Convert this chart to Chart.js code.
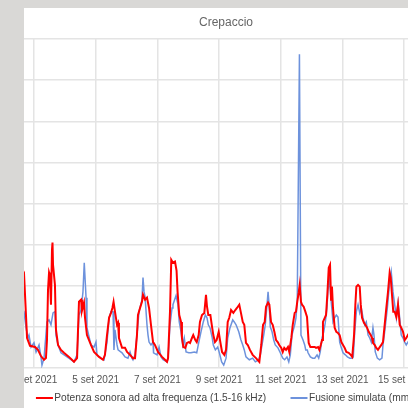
<!DOCTYPE html>
<html><head><meta charset="utf-8">
<script src="https://cdn.jsdelivr.net/npm/chart.js@4"></script>
<style>
html,body{margin:0;padding:0;background:#d9d8d6;width:408px;height:408px;overflow:hidden}
#panel{position:absolute;left:24px;top:8px;width:384px;height:400px;overflow:hidden;background:#fff}
#wrap{position:absolute;left:-24px;top:-8px;width:452px;height:413px}
</style></head><body>
<div id="panel"><div id="wrap"><canvas id="c" width="452" height="413"></canvas></div></div>
<script>
// x values: hours since 3 set 2021 00:00
const tickHours = [0, 48, 96, 144, 192, 240, 288];
const tickLabels = ['3 set 2021', '5 set 2021', '7 set 2021', '9 set 2021', '11 set 2021', '13 set 2021', '15 set 2021'];
const seriesNames = ['Potenza sonora ad alta frequenza (1.5-16 kHz)', 'Fusione simulata (mm w.e.)'];

const redHours = [-12.4,-7.8,-5.4,-3.1,0.8,3.1,5.4,7.8,9.3,10.1,10.9,11.7,12.4,13.2,14.0,14.4,14.8,16.3,17.1,18.7,21.0,23.3,27.2,31.1,33.5,35.0,36.6,37.3,38.9,39.7,41.2,44.3,46.7,50.6,53.7,55.2,56.8,58.4,59.9,61.0,61.9,63.0,64.6,65.4,66.1,68.5,70.8,72.4,74.7,77.0,78.6,80.1,80.9,82.5,84.0,84.8,86.4,87.9,89.5,91.0,92.6,94.1,96.5,99.6,101.9,103.5,104.3,105.8,106.8,108.1,109.7,110.9,111.7,113.0,114.4,115.1,116.2,117.7,119.0,120.4,121.4,122.9,123.9,125.5,126.6,128.1,129.1,130.7,132.5,133.8,134.6,135.6,137.2,138.3,139.5,140.8,142.1,143.7,144.7,146.3,148.1,149.4,150.7,151.9,153.3,155.1,156.6,157.9,159.7,161.0,162.4,163.6,164.9,166.3,168.0,170.1,172.7,175.3,176.8,178.2,179.5,180.5,182.1,183.1,184.4,185.7,187.0,188.3,189.6,190.8,192.4,193.5,194.7,196.1,197.6,198.6,200.2,201.3,202.8,203.8,204.8,205.9,206.7,207.7,208.5,209.8,211.1,212.4,213.7,215.0,216.8,218.4,219.4,221.0,222.0,223.1,224.1,224.8,226.2,227.2,228.2,229.3,230.3,231.1,231.8,232.6,233.9,235.2,236.5,237.8,239.1,240.4,241.7,243.0,244.8,246.4,247.6,249.0,250.0,250.8,252.1,253.4,254.2,255.2,256.7,257.7,259.1,260.4,262.0,263.0,263.7,265.1,266.3,267.6,269.0,270.2,271.5,272.8,274.1,275.4,276.7,277.5,278.5,279.5,280.6,281.9,283.2,284.5,285.7,287.1,288.4,289.6,290.9,294.1];
const redValues = [2.59,2.32,0.73,0.54,0.51,0.44,0.29,0.2,0.24,0.68,1.9,2.32,2.24,1.54,2.88,3.05,2.51,2.02,0.93,0.56,0.44,0.37,0.27,0.15,0.24,1.61,1.66,1.39,1.59,1.22,0.80,0.56,0.39,0.27,0.2,0.32,0.80,1.22,1.34,1.46,1.61,1.37,1.05,1.10,0.73,0.49,0.49,0.39,0.32,0.24,0.24,0.80,1.29,1.46,1.61,1.78,1.66,1.71,1.46,1.05,0.63,0.56,0.39,0.27,0.2,0.15,0.24,1.37,2.63,2.56,2.59,2.37,1.85,1.29,1.12,0.73,0.51,0.49,0.61,0.63,0.61,0.73,0.80,0.68,0.63,0.80,1.12,1.29,1.34,1.78,1.49,1.29,1.29,1.05,0.80,0.63,0.68,0.88,0.68,0.39,0.32,0.44,1.12,1.22,1.41,1.34,1.41,1.46,1.54,1.34,1.12,1.05,0.61,0.56,0.44,0.32,0.24,0.15,0.56,1.05,1.12,1.49,1.59,1.54,1.12,1.05,0.88,0.68,0.63,0.56,0.49,0.39,0.49,0.44,0.51,0.39,0.73,1.05,1.34,1.37,1.61,1.83,2.02,1.61,1.54,1.49,1.37,1.24,0.61,0.51,0.51,0.51,0.49,0.51,0.44,0.56,0.68,1.12,1.22,1.29,1.78,2.44,2.51,1.66,1.98,1.46,0.98,0.88,0.85,0.80,0.63,0.56,0.49,0.39,0.37,0.32,0.27,0.80,1.54,1.98,2.02,1.98,1.54,1.22,1.10,1.05,0.98,0.88,0.80,0.73,0.61,0.56,0.49,0.44,0.51,0.56,0.63,1.05,1.46,1.85,2.32,2.20,1.78,1.37,1.37,1.24,1.54,1.05,0.98,0.88,0.68,0.73,0.80,0.68];

const blueHours = [-12.4,-7.8,-6.2,-4.7,-3.9,-2.3,0,1.6,3.9,5.4,6.2,7.8,10.1,11.7,13.2,14.8,16.3,17.1,18.7,21.0,25.7,31.1,33.5,35.0,36.6,38.1,39.1,40.5,41.2,44.3,46.7,48.2,49.0,52.1,54.5,56.8,58.4,59.9,61.5,62.2,63.0,64.6,65.4,68.5,70.8,73.1,74.7,76.2,77.0,78.6,80.1,81.7,84.0,84.8,85.6,86.4,87.9,88.7,89.5,91.0,92.6,93.0,95.7,97.3,98.8,100.4,103.5,104.3,105.8,107.4,108.1,110.5,112.0,113.0,114.4,115.7,116.9,118.3,120.4,122.1,124.7,126.6,128.1,129.9,131.7,133.3,134.6,135.6,136.9,138.5,139.5,141.1,142.9,144.2,146.0,147.6,149.4,150.7,152.5,154.6,155.8,157.2,159.3,161.0,162.4,163.6,164.9,167.5,170.1,172.2,174.8,176.1,177.4,178.7,179.9,181.3,182.1,183.1,183.8,185.2,186.5,187.7,189.8,191.6,193.5,195.0,196.8,198.2,199.4,200.7,202.8,203.8,204.8,206.5,207.7,209.3,210.6,211.4,212.6,213.2,215.0,216.8,218.4,220.2,221.5,222.7,224.1,225.4,226.6,227.9,228.7,229.9,231.1,232.6,233.9,235.2,236.5,237.8,239.1,240.4,242.2,243.8,245.7,247.4,248.4,249.5,250.8,252.1,253.4,254.6,256.0,257.3,258.5,259.9,261.2,262.4,263.7,264.5,265.5,267.1,268.9,270.7,271.5,272.8,274.9,276.7,277.9,279.3,280.6,281.9,283.2,284.5,285.7,287.1,288.4,289.6,290.9,294.1];
const blueValues = [1.66,1.37,0.98,0.73,0.80,0.51,0.61,0.39,0.56,0.27,0.07,0.24,1.12,1.17,1.05,1.34,1.37,0.80,0.56,0.37,0.27,0.15,0.32,1.29,1.41,1.85,2.56,1.71,0.98,0.56,0.51,0.63,0.32,0.24,0.2,0.63,1.22,1.37,1.37,0.44,0.93,0.56,0.44,0.37,0.27,0.24,0.39,0.24,0.2,0.32,0.80,1.37,1.66,2.20,1.85,1.73,1.05,0.80,0.63,0.56,0.63,0.37,0.32,0.51,0.27,0.2,0.15,0.24,1.05,1.46,1.54,1.76,1.54,1.12,0.88,0.56,0.73,0.39,0.37,0.37,0.39,0.37,0.61,0.88,1.12,1.29,1.22,1.05,0.98,0.76,0.56,0.44,0.51,0.37,0.15,0.07,0.24,0.73,0.98,1.17,1.12,1.05,0.88,0.68,0.56,0.44,0.27,0.2,0.24,0.15,0.2,0.32,0.56,0.80,1.05,1.54,1.85,1.46,1.0,0.88,0.68,0.56,0.49,0.37,0.24,0.2,0.27,0.15,0.32,0.80,1.05,1.22,1.61,7.63,0.80,0.68,0.56,0.44,0.44,0.37,0.27,0.24,0.24,0.32,0.24,0.39,0.73,0.88,1.10,1.46,1.90,2.15,1.66,1.12,1.22,1.29,1.24,0.63,0.49,0.37,0.32,0.27,0.24,0.24,0.27,0.88,1.37,1.54,1.34,1.46,1.22,1.05,1.12,0.80,0.73,0.63,0.98,0.80,0.39,0.24,0.2,0.24,0.56,0.88,1.46,2.10,2.34,1.85,1.54,1.22,1.59,1.22,0.80,0.73,0.63,0.56,0.63,0.56];

const redColor = '#ff0000';
const blueColor = '#6d92dc';

// legend marker: 40px wide image, line drawn in its right part so it sits just before the text
function legendLine(color) {
  const cv = document.createElement('canvas');
  cv.width = 40; cv.height = 2;
  const g = cv.getContext('2d');
  g.fillStyle = color; g.fillRect(22, 0, 17, 2);
  return cv;
}
const legendImgs = [legendLine(redColor), legendLine(blueColor)];

const zip = (xs, ys) => xs.map((x, i) => ({x: x, y: ys[i]}));
const FONT = "'Liberation Sans', Arial, sans-serif";
const gridColor = '#e4e4e4';

new Chart(document.getElementById('c'), {
  type: 'line',
  data: {
    datasets: [
      {label: seriesNames[0], data: zip(redHours, redValues), borderColor: redColor, backgroundColor: redColor, borderWidth: 2, pointRadius: 0, tension: 0},
      {label: seriesNames[1], data: zip(blueHours, blueValues), borderColor: blueColor, backgroundColor: blueColor, borderWidth: 1.5, pointRadius: 0, tension: 0}
    ]
  },
  options: {
    responsive: false,
    animation: false,
    devicePixelRatio: 1,
    layout: {padding: 0},
    plugins: {
      title: {display: true, text: 'Crepaccio', color: '#666', font: {family: FONT, size: 12, weight: 'normal'}, padding: {top: 15, bottom: 9.6}},
      legend: {
        position: 'bottom',
        labels: {
          usePointStyle: true, pointStyleWidth: 30.7, padding: 7, color: '#444',
          font: {family: FONT, size: 10.2},
          generateLabels(chart) {
            const items = Chart.defaults.plugins.legend.labels.generateLabels(chart);
            items.forEach((it, i) => { it.pointStyle = legendImgs[i]; });
            return items;
          }
        }
      },
      tooltip: {enabled: false}
    },
    scales: {
      x: {
        type: 'linear', min: -26.45, max: 325.19,
        afterBuildTicks(scale) { scale.ticks = tickHours.map(v => ({value: v})); },
        afterFit(scale) { scale.height = 17.8; scale.paddingLeft = 0; scale.paddingRight = 0; },
        ticks: {autoSkip: false, maxRotation: 0, padding: 6, color: '#555', font: {family: FONT, size: 10},
          callback(v) { const i = tickHours.indexOf(v); return i >= 0 ? tickLabels[i] : ''; }},
        grid: {color: gridColor, lineWidth: 1.5, drawTicks: false},
        border: {display: false}
      },
      y: {
        min: 0, max: 8,
        afterFit(scale) { scale.width = 0; },
        ticks: {display: false, stepSize: 1},
        grid: {color: gridColor, lineWidth: 1.5, drawTicks: false},
        border: {display: false}
      }
    }
  }
});
</script></body></html>
